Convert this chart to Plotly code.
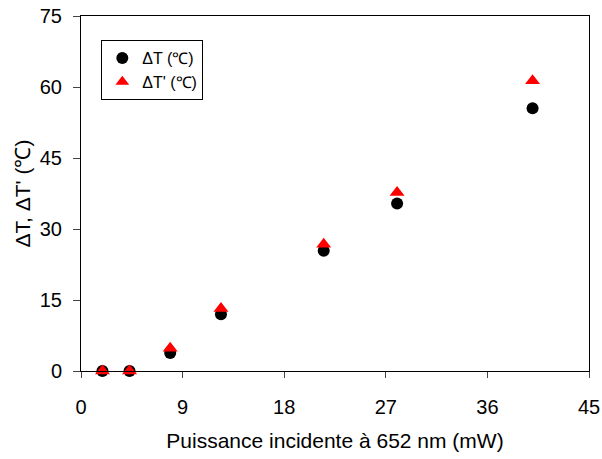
import plotly.graph_objects as go

power_mw = [1.9, 4.3, 7.9, 12.4, 21.5, 28.0, 40.0]
delta_t = [0, 0, 3.8, 12.0, 25.4, 35.4, 55.5]
delta_t_prime = [0, 0, 4.8, 13.2, 26.8, 37.7, 61.3]
x_ticks = [0, 9, 18, 27, 36, 45]
y_ticks = [0, 15, 30, 45, 60, 75]

font = "Liberation Sans"

fig = go.Figure()
fig.add_trace(go.Scatter(
    x=power_mw, y=delta_t, mode="markers", name="ΔT (℃)",
    marker=dict(symbol="circle", size=12, color="black"),
    cliponaxis=False,
))
fig.add_trace(go.Scatter(
    x=power_mw, y=delta_t_prime, mode="markers", name="ΔT' (℃)",
    marker=dict(symbol="triangle-up", size=13, color="red"),
    cliponaxis=False,
))

fig.update_layout(
    width=602, height=459,
    margin=dict(l=81, r=13, t=16, b=88, autoexpand=False),
    plot_bgcolor="white", paper_bgcolor="white",
    font=dict(family=font, color="black", size=20),
    showlegend=True,
    legend=dict(
        x=0.04, y=0.932, xanchor="left", yanchor="top",
        bordercolor="black", borderwidth=1, bgcolor="white",
        font=dict(size=16, family=font), itemsizing="constant",
        tracegroupgap=0, itemwidth=30,
    ),
    xaxis=dict(
        range=[0, 45], tickvals=x_ticks, ticks="outside", ticklen=6,
        showline=True, linecolor="black", linewidth=1, mirror=True,
        showgrid=False, zeroline=False, automargin=False,
        ticklabelstandoff=12,
        title=dict(text="Puissance incidente à 652 nm (mW)", font=dict(size=21), standoff=16),
        tickfont=dict(size=20),
    ),
    yaxis=dict(
        range=[0, 75], tickvals=y_ticks, ticks="outside", ticklen=7,
        showline=True, linecolor="black", linewidth=1, mirror=True,
        showgrid=False, zeroline=False, automargin=False,
        ticklabelstandoff=7,
        title=dict(text="ΔT, ΔT' (℃)", font=dict(size=21), standoff=3),
        tickfont=dict(size=20),
    ),
)

fig.write_html("out.html")
